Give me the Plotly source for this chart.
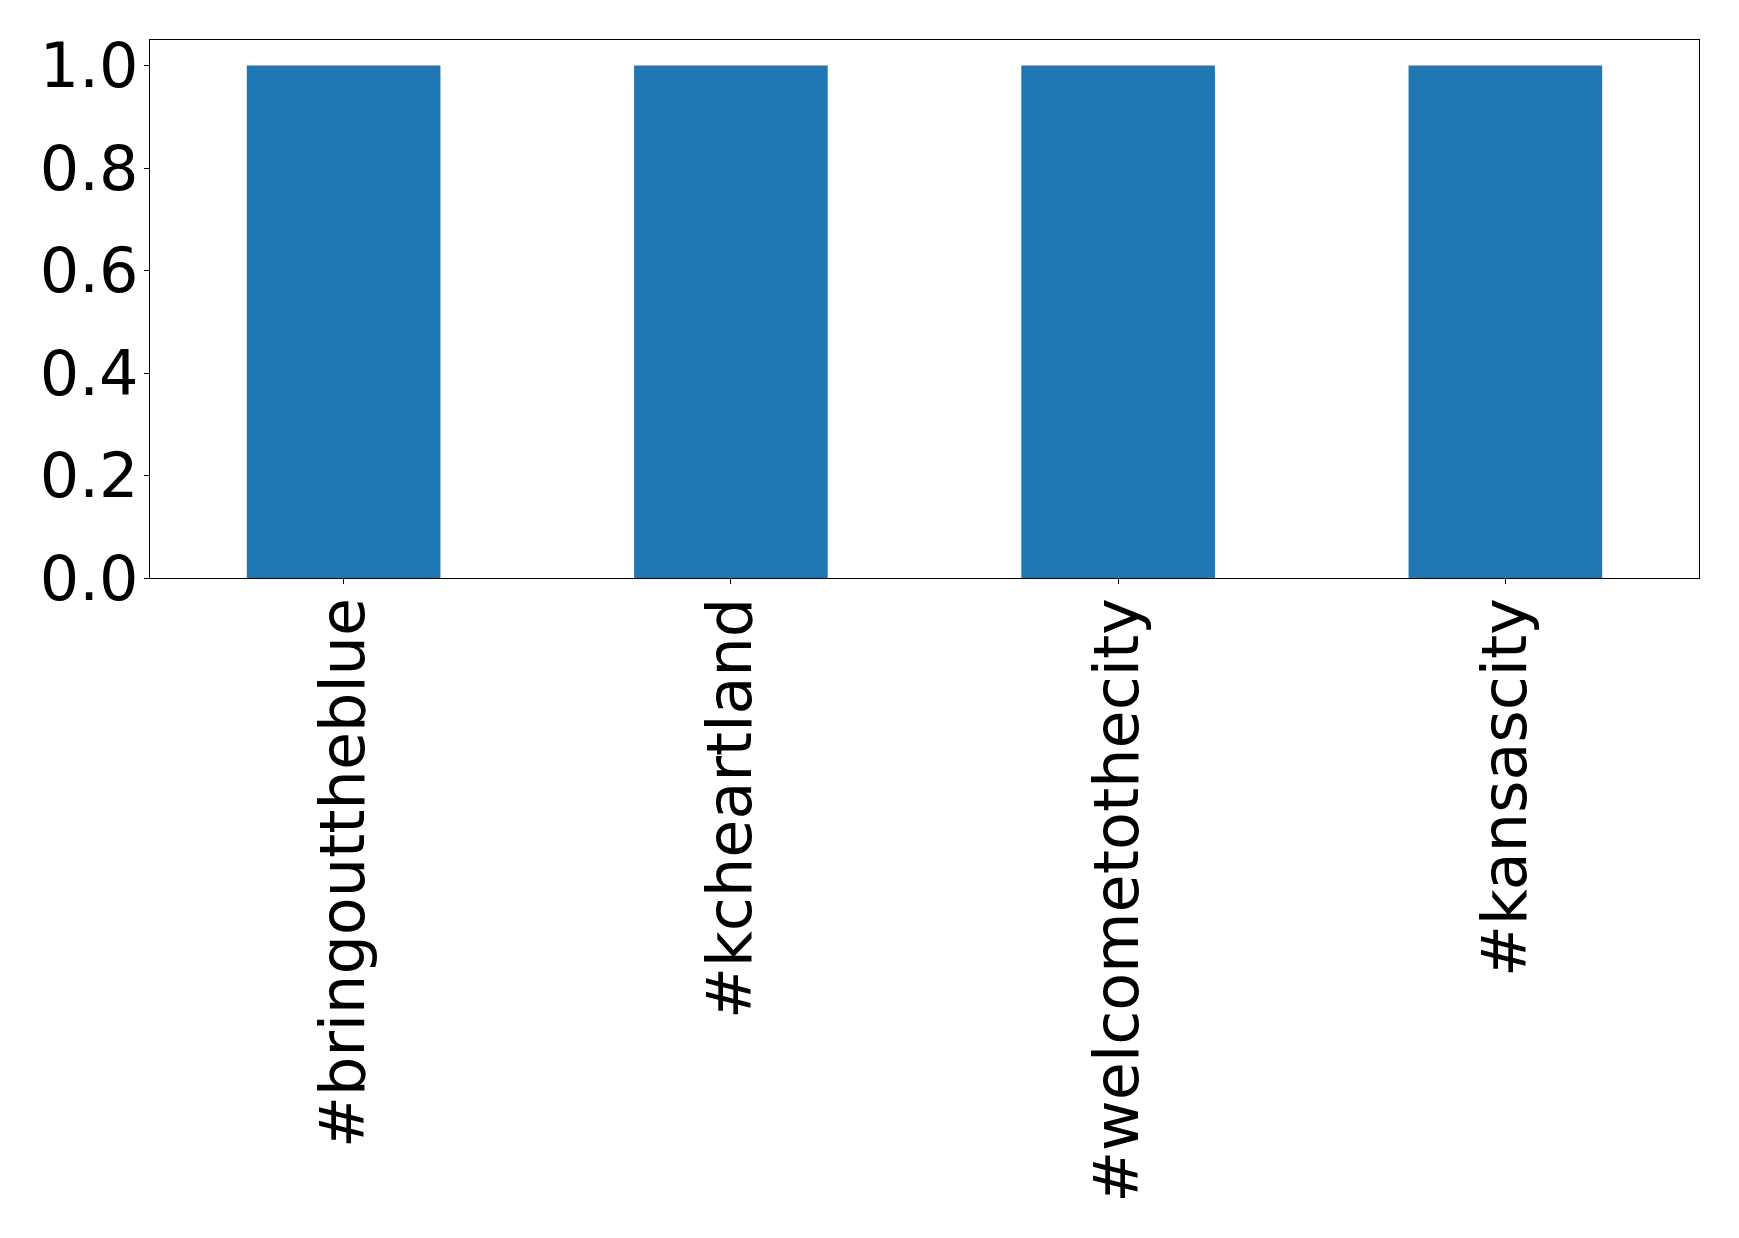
import plotly.graph_objects as go

categories = ["#bringouttheblue", "#kcheartland", "#welcometothecity", "#kansascity"]
values = [1, 1, 1, 1]
y_ticks = [0.0, 0.2, 0.4, 0.6, 0.8, 1.0]
y_tick_labels = ["0.0", "0.2", "0.4", "0.6", "0.8", "1.0"]

W, H = 1739, 1238
OFF = 8  # default body margin of the page
L, R, T, B = 149.5, 1699.5, 39.5, 578.5

fig = go.Figure(go.Bar(x=list(range(len(categories))), y=values, width=0.5,
                       marker=dict(color="#1f77b4", line=dict(width=0))))

font = dict(family="DejaVu Sans", size=62, color="black")
fig.update_layout(
    width=W, height=H,
    margin=dict(l=L - OFF, r=W + OFF - R, t=T - OFF, b=H + OFF - B, pad=0),
    plot_bgcolor="white", paper_bgcolor="white",
    showlegend=False,
    xaxis=dict(range=[-0.5, 3.5], tickmode="array", tickvals=list(range(len(categories))),
               ticktext=categories, tickangle=-90, tickfont=font, ticklabelstandoff=-11,
               showline=True, linecolor="black", linewidth=1.3, mirror=True,
               ticks="outside", ticklen=5, tickwidth=1.2, tickcolor="black",
               showgrid=False, zeroline=False),
    yaxis=dict(range=[0, 1.05], tickmode="array", tickvals=y_ticks, ticktext=y_tick_labels,
               tickfont=font, ticklabelstandoff=-7,
               showline=True, linecolor="black", linewidth=1.3, mirror=True,
               ticks="outside", ticklen=5, tickwidth=1.2, tickcolor="black",
               showgrid=False, zeroline=False),
)
fig.write_html("out.html")
